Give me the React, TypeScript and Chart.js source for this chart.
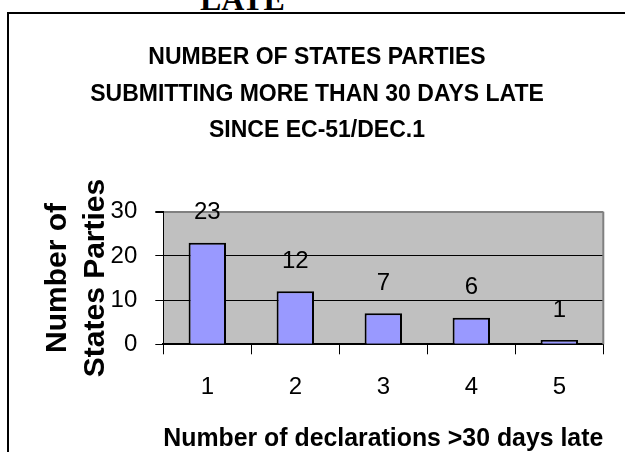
import React, { useEffect, useRef } from "react";
import { Chart, registerables } from "chart.js";

Chart.register(...registerables);

const categories = ["1", "2", "3", "4", "5"];
const values = [23, 12, 7, 6, 1];
const titleLines = [
  "NUMBER OF STATES PARTIES",
  "SUBMITTING MORE THAN 30 DAYS LATE",
  "SINCE EC-51/DEC.1",
];
const yTitleLines = ["Number of", "States Parties"];
const xTitle = "Number of declarations >30 days late";

const FONT = "'Liberation Sans', Arial, sans-serif";

const plotBg = {
  id: "plotBg",
  beforeDraw(chart: any) {
    const { ctx, chartArea: a } = chart;
    ctx.save();
    ctx.fillStyle = "#C0C0C0";
    ctx.fillRect(a.left, a.top, a.right - a.left, a.bottom - a.top);
    ctx.restore();
  },
  afterDatasetsDraw(chart: any) {
    const { ctx, chartArea: a } = chart;
    ctx.save();
    ctx.strokeStyle = "#808080";
    ctx.lineWidth = 2;
    ctx.beginPath();
    ctx.moveTo(a.right, a.top);
    ctx.lineTo(a.right, a.bottom);
    ctx.stroke();
    ctx.restore();
    // data labels
    const meta = chart.getDatasetMeta(0);
    const data = chart.data.datasets[0].data;
    ctx.save();
    ctx.fillStyle = "#000";
    ctx.font = `24px ${FONT}`;
    ctx.textAlign = "center";
    ctx.textBaseline = "middle";
    meta.data.forEach((bar: any, i: number) => {
      ctx.fillText(String(data[i]), bar.x, bar.y - 30);
    });
    ctx.restore();
  },
};

export default function App() {
  const ref = useRef<HTMLCanvasElement>(null);
  useEffect(() => {
    if (!ref.current) return;
    const chart = new Chart(ref.current, {
      type: "bar",
      data: {
        labels: categories,
        datasets: [
          {
            data: values,
            backgroundColor: "#9999FF",
            borderColor: "#000000",
            borderWidth: 2,
            barPercentage: 0.425,
            categoryPercentage: 1,
          },
        ],
      },
      options: {
        animation: false,
        responsive: false,
        layout: { padding: 0 },
        plugins: {
          legend: { display: false },
          tooltip: { enabled: false },
          title: {
            display: true,
            text: titleLines,
            color: "#000",
            font: { family: FONT, size: 23, weight: "bold", lineHeight: 1.587 },
            padding: { top: 25.5, bottom: 62.7 },
          },
        },
        scales: {
          x: {
            type: "category",
            offset: true,
            grid: {
              display: true,
              drawOnChartArea: false,
              drawTicks: true,
              tickLength: 10,
              offset: true,
              color: "#000",
              lineWidth: 1,
            },
            border: { display: true, color: "#000", width: 2 },
            ticks: {
              color: "#000",
              font: { family: FONT, size: 24 },
              padding: 19,
              maxRotation: 0,
            },
            title: {
              display: true,
              text: xTitle,
              color: "#000",
              font: { family: FONT, size: 25, weight: "bold", lineHeight: 1 },
              padding: 0,
            },
            afterFit: (s: any) => {
              s.height = 107.7;
            },
          },
          y: {
            type: "linear",
            min: 0,
            max: 30,
            ticks: {
              stepSize: 10,
              color: "#000",
              font: { family: FONT, size: 24 },
              padding: 18,
            },
            grid: {
              color: (c: any) => (c.tick && c.tick.value === 30 ? "#808080" : "#000"),
              lineWidth: (c: any) => (c.tick && c.tick.value === 30 ? 2 : 1),
              tickColor: "#000",
              tickLength: 8,
            },
            border: { display: true, color: "#000", width: 1 },
            title: {
              display: true,
              text: yTitleLines,
              color: "#000",
              font: { family: FONT, size: 30, weight: "bold", lineHeight: 1.24 },
              padding: { top: 30.5, bottom: 0 },
            },
            afterFit: (s: any) => {
              s.width = 154.3;
            },
          },
          yR: {
            type: "linear",
            position: "right",
            display: true,
            grid: { display: false },
            ticks: { display: false },
            border: { display: false },
            afterFit: (s: any) => {
              s.width = 21.7;
            },
          },
        },
      },
      plugins: [plotBg],
    } as any);
    return () => chart.destroy();
  }, []);

  return (
    <>
      <div
        style={{
          position: "absolute",
          left: 200,
          top: -16.8,
          fontFamily: "'Liberation Serif', 'Times New Roman', serif",
          fontWeight: "bold",
          fontSize: 32,
          lineHeight: "32px",
          color: "#000",
          whiteSpace: "nowrap",
        }}
      >
        LATE
      </div>
      <div
        style={{
          position: "absolute",
          left: 7,
          top: 12,
          width: 618,
          height: 440,
          boxSizing: "border-box",
          borderTop: "2px solid #000",
          borderLeft: "2px solid #000",
        }}
      />
      <canvas
        ref={ref}
        width={616}
        height={438}
        style={{ position: "absolute", left: 9, top: 14, width: 616, height: 438 }}
      />
    </>
  );
}
